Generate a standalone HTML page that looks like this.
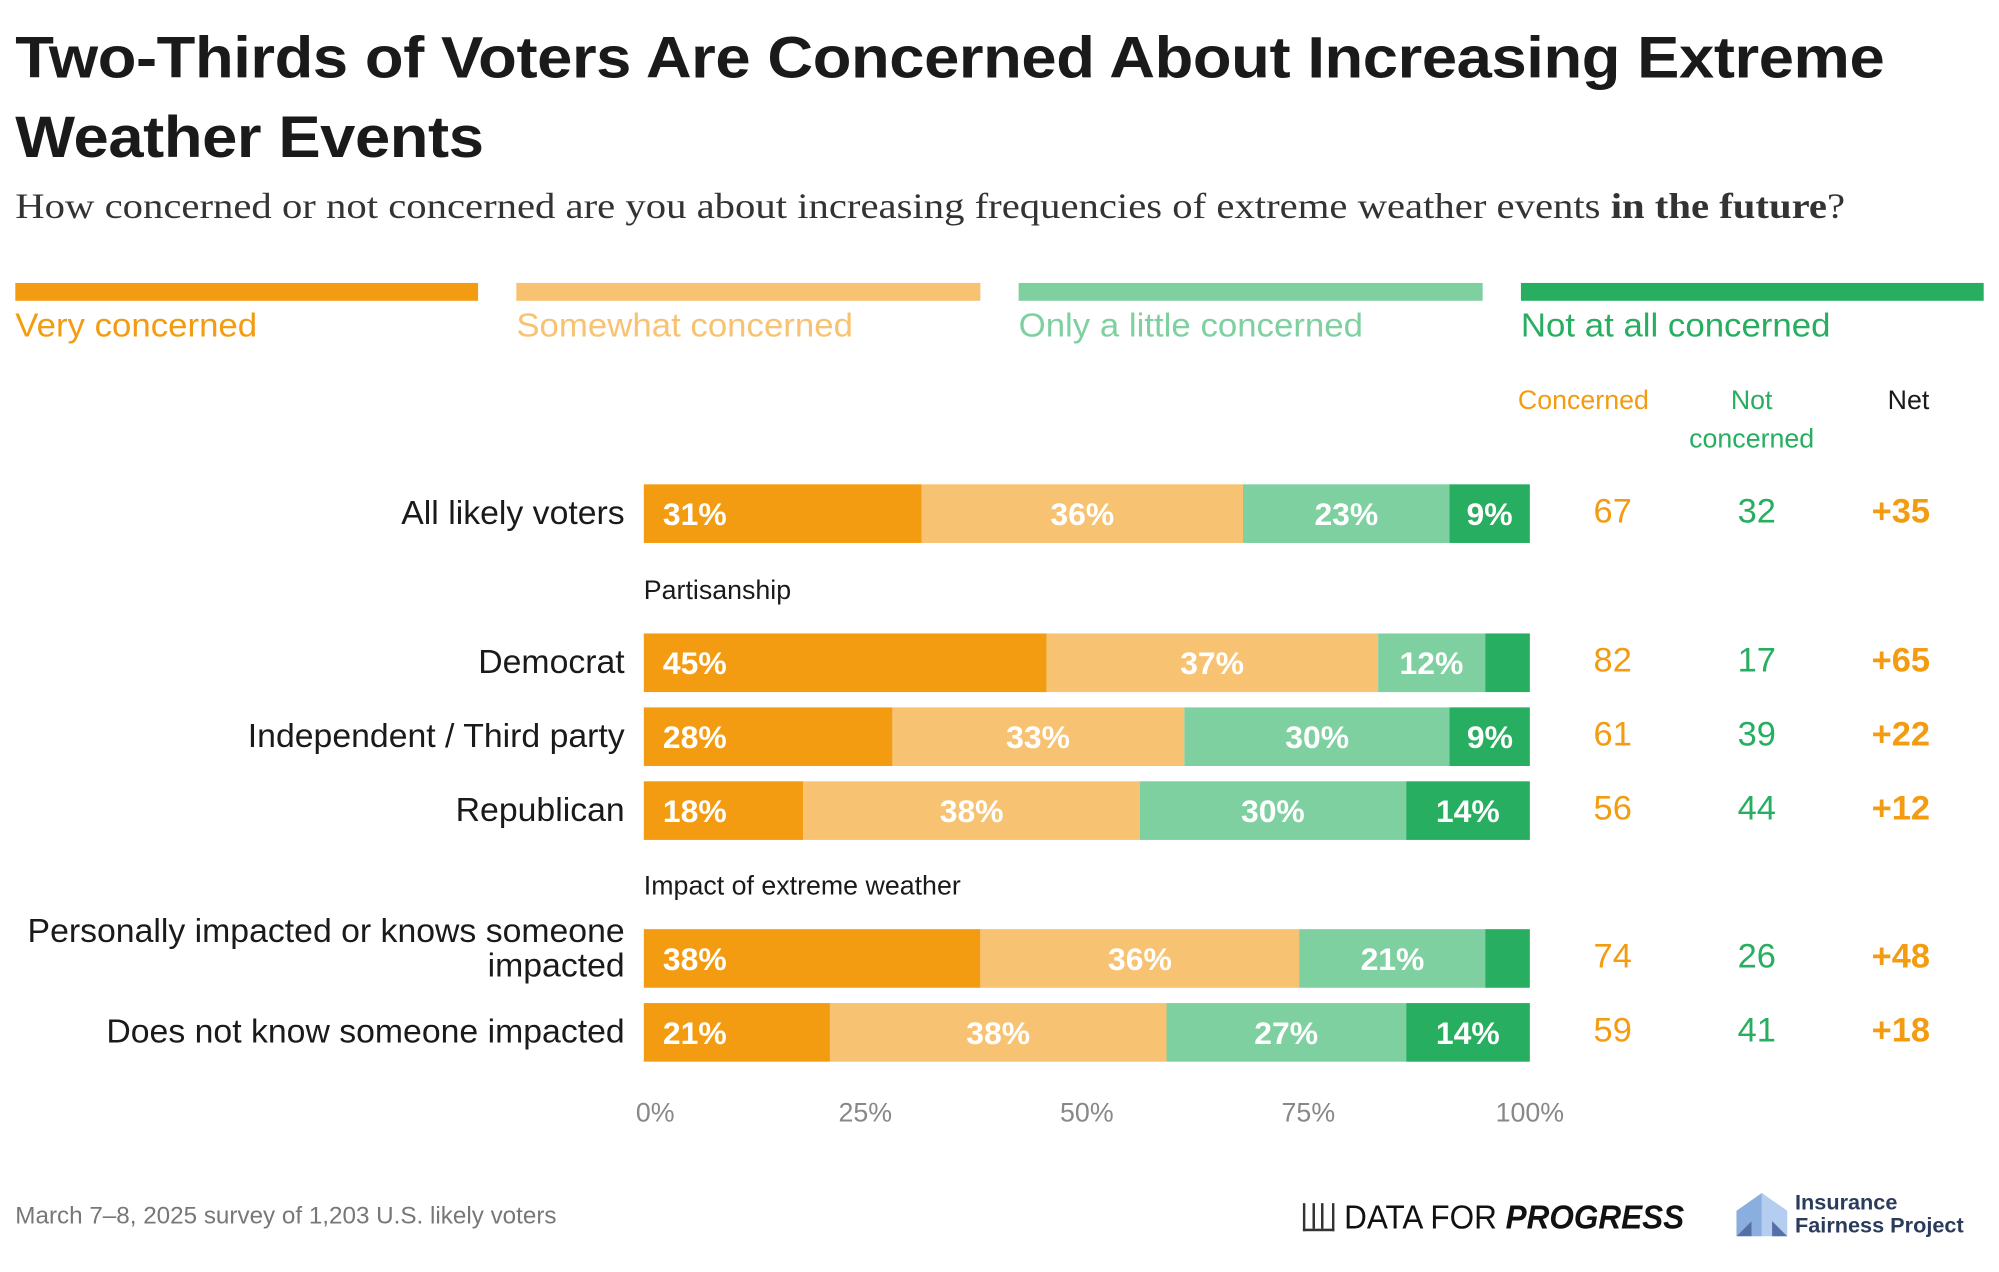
<!DOCTYPE html>
<html><head><meta charset="utf-8"><style>
html,body{margin:0;padding:0;background:#fff;width:1999px;height:1272px;overflow:hidden}
#wrap{position:absolute;left:0;top:0;width:1568px;height:998px;transform-origin:0 0;transform:scale(1.27487,1.27455);font-family:"Liberation Sans",sans-serif;color:#1a1a1a}
.abs{position:absolute;white-space:nowrap}
.title{left:12px;top:14px;font-size:46px;font-weight:bold;line-height:62px;letter-spacing:-0.3px;transform-origin:0 0;transform:scaleX(1.08)}
.sub{left:12px;top:147px;font-family:"Liberation Serif",serif;font-size:28px;color:#333;transform-origin:0 0;transform:scaleX(1.14)}
.leg{height:14px;top:222px}
.legt{top:240px;font-size:26px;transform-origin:0 0;transform:scaleX(1.05)}
.hdr{font-size:21px;text-align:center;line-height:30px}
.cat{font-size:26.5px;text-align:right;right:1078px;line-height:27px}
.grp{font-size:21px;left:505px}
.seg{position:absolute;height:46px;color:#fff;font-weight:bold;font-size:25px;line-height:48px;overflow:hidden}
.num{font-size:27px;width:80px;text-align:center;margin-left:-40px}
.tick{font-size:21px;color:#888;top:862px;width:80px;margin-left:-40px;text-align:center}
</style></head><body>
<div id="wrap">
<div class="abs title">Two-Thirds of Voters Are Concerned About Increasing Extreme<br>Weather Events</div>
<div class="abs sub">How concerned or not concerned are you about increasing frequencies of extreme weather events <b>in the future</b>?</div>
<div class="abs leg" style="left:12px;width:363px;background:#F39C12"></div>
<div class="abs legt" style="left:12px;color:#F39C12">Very concerned</div>
<div class="abs leg" style="left:405px;width:364px;background:#F7C373"></div>
<div class="abs legt" style="left:405px;color:#F7C373">Somewhat concerned</div>
<div class="abs leg" style="left:799px;width:364px;background:#7FD0A0"></div>
<div class="abs legt" style="left:799px;color:#7FD0A0">Only a little concerned</div>
<div class="abs leg" style="left:1193px;width:363px;background:#27AE60"></div>
<div class="abs legt" style="left:1193px;color:#27AE60">Not at all concerned</div>
<div class="abs hdr" style="left:1182px;top:300px;width:120px;color:#F39C12">Concerned</div>
<div class="abs hdr" style="left:1314px;top:300px;width:120px;color:#27AE60">Not<br>concerned</div>
<div class="abs hdr" style="left:1457px;top:300px;width:80px">Net</div>
<div class="abs grp" style="top:452px">Partisanship</div>
<div class="abs grp" style="top:684px">Impact of extreme weather</div>
<div id="chart"></div>
<div class="abs" style="left:12px;top:944px;font-size:19px;color:#777">March 7–8, 2025 survey of 1,203 U.S. likely voters</div>
<div class="abs" style="left:1022px;top:940px;font-size:26px;color:#111;transform-origin:0 0;transform:scaleX(0.95)"><span style="display:inline-block;width:22px;height:20px;border:2px solid #333;border-top:none;vertical-align:-2px;margin-right:8px;background:linear-gradient(90deg,transparent 6px,#333 6px,#333 8px,transparent 8px,transparent 13px,#333 13px,#333 15px,transparent 15px)"></span>DATA FOR <i style="font-weight:bold">PROGRESS</i></div>
<svg class="abs" style="left:1362px;top:936px" width="40" height="34"><polygon points="0,14 20,0 20,34 12,34 12,22 0,34" fill="#8AAEDE"/><polygon points="40,14 20,0 20,34 28,34 28,22 40,34" fill="#B5CDEE"/><polygon points="0,34 12,22 12,34" fill="#5470A8"/><polygon points="40,34 28,22 28,34" fill="#5470A8"/></svg>
<div class="abs" style="left:1408px;top:935px;font-size:17px;font-weight:bold;color:#2B3B5C;line-height:18px">Insurance<br>Fairness Project</div>
</div>
<script>
const categories=["All likely voters","Democrat","Independent / Third party","Republican","Personally impacted or knows someone impacted","Does not know someone impacted"];
const veryVals=[31,45,28,18,38,21];
const somewhatVals=[36,37,33,38,36,38];
const littleVals=[23,12,30,30,21,27];
const notVals=[9,5,9,14,5,14];
const concernedVals=[67,82,61,56,74,59];
const notConcernedVals=[32,17,39,44,26,41];
const netVals=["+35","+65","+22","+12","+48","+18"];
const tickVals=[0,25,50,75,100];
const rowTops=[380,497,555,613,729,787];
const X0=505,W=695;
const xs=v=>X0+v/100*W;
const colors=["#F39C12","#F7C373","#7FD0A0","#27AE60"];
const names=["very","somewhat","little","not"];
const wrap=document.getElementById('chart');
categories.forEach((c,i)=>{
  const y=rowTops[i];
  const lab=document.createElement('div');
  lab.className='abs cat';
  
  
  if(c.length>40){lab.style.top=(y-12)+'px';lab.innerHTML='Personally impacted or knows someone<br>impacted';}
  else{lab.style.top=(y+9)+'px';lab.textContent=c;}
  wrap.appendChild(lab);
  const vals=[veryVals[i],somewhatVals[i],littleVals[i],notVals[i]];
  const tot=vals.reduce((a,b)=>a+b,0);
  let acc=0;
  vals.forEach((v,k)=>{
    const s=document.createElement('div');
    s.className='seg';
    
    
    const l=xs(acc/tot*100),r=xs((acc+v)/tot*100);
    s.style.left=l+'px';s.style.width=(r-l)+'px';s.style.top=y+'px';s.style.background=colors[k];
    if(v>=9){s.textContent=v+'%';if(k===0){s.style.paddingLeft='15px';s.style.boxSizing='border-box';}else s.style.textAlign='center';}
    wrap.appendChild(s);acc+=v;
  });
  [[concernedVals[i],1265,'#F39C12','concerned-value',''],[notConcernedVals[i],1378,'#27AE60','not-concerned-value',''],[netVals[i],1491,'#F39C12','net-value','bold']].forEach(([t,x,col,nm,fw])=>{
    const d=document.createElement('div');
    d.className='abs num';
    
    
    d.style.left=x+'px';d.style.top=(y+6)+'px';d.style.color=col;d.style.fontWeight=fw;d.textContent=t;
    wrap.appendChild(d);
  });
});
tickVals.forEach(t=>{
  const d=document.createElement('div');
  d.className='abs tick';
  
  
  d.style.left=(xs(t)+(t===0?9:0))+'px';d.textContent=t+'%';
  wrap.appendChild(d);
});
</script>
</body></html>
